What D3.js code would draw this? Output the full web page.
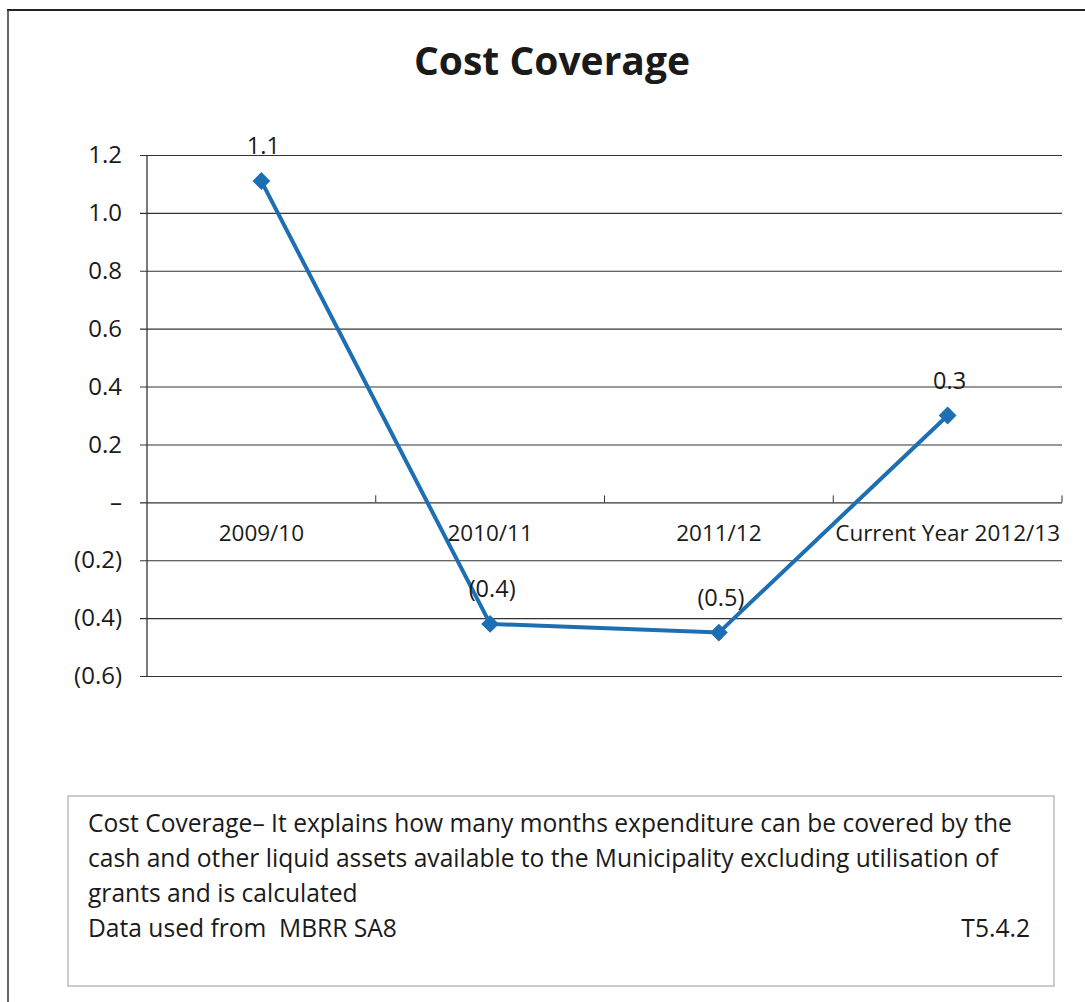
<!DOCTYPE html>
<html><head><meta charset="utf-8">
<script src="https://cdn.jsdelivr.net/npm/d3@7"></script>
<style>
html,body{margin:0;padding:0;background:#fff;}
svg{display:block;}
text{font-family:"Open Sans","Lato",sans-serif;fill:#1a1a1a;white-space:pre;}
</style></head>
<body><svg id="c" width="1085" height="1002"></svg>
<script>
const categories = ["2009/10", "2010/11", "2011/12", "Current Year 2012/13"];
const values = [1.11, -0.42, -0.45, 0.30];
const dataLabels = ["1.1", "(0.4)", "(0.5)", "0.3"];
const yTicks = [1.2, 1.0, 0.8, 0.6, 0.4, 0.2, 0, -0.2, -0.4, -0.6];
const title = "Cost Coverage";
const noteLines = [
  "Cost Coverage\u2013 It explains how many months expenditure can be covered by the",
  "cash and other liquid assets available to the Municipality excluding utilisation of",
  "grants and is calculated",
  "Data used from  MBRR SA8"
];
const noteRef = "T5.4.2";

const svg = d3.select("#c");
const W = 1085, H = 1002;
const FONT = "'Open Sans',sans-serif";

// outer frame
svg.append("line").attr("x1",7).attr("x2",W).attr("y1",10).attr("y2",10).attr("stroke","#222").attr("stroke-width",2);
svg.append("line").attr("x1",8).attr("x2",8).attr("y1",10).attr("y2",H).attr("stroke","#333").attr("stroke-width",1.5);

svg.append("text").attr("x",552).attr("y",75).attr("text-anchor","middle")
  .style("font-size","39px").style("font-weight","bold").style("font-family",FONT).text(title);

const x = d3.scaleBand().domain(categories).range([147,1062]);
const y = d3.scaleLinear().domain([-0.6,1.2]).range([676,155]);

const fmt = d => Math.abs(d) < 1e-9 ? "\u2013" : d < 0 ? "(" + Math.abs(d).toFixed(1) + ")" : d.toFixed(1);

// y axis with gridlines
const yAxis = d3.axisLeft(y).tickValues(yTicks).tickFormat(fmt).tickSize(-(1062-147)).tickPadding(25);
const gy = svg.append("g").attr("transform","translate(147,0)").call(yAxis);
gy.select(".domain").remove();
gy.selectAll(".tick line").attr("x1",-7).attr("stroke","#333").attr("stroke-width",1.1);
gy.selectAll(".tick text").style("font-size","24px").attr("fill","#1a1a1a").style("font-family",FONT);
svg.append("line").attr("x1",147).attr("x2",147).attr("y1",y(1.2)).attr("y2",y(-0.6)).attr("stroke","#333").attr("stroke-width",1.3);

// category axis at zero
const xAxis = d3.axisBottom(x).tickSize(0).tickPadding(0);
const gx = svg.append("g").attr("transform",`translate(0,${y(0)})`).call(xAxis);
gx.select(".domain").remove();
gx.selectAll(".tick text").attr("y",30).attr("dy",null).attr("dominant-baseline","central")
  .style("font-size","22.5px").attr("fill","#1a1a1a").style("font-family",FONT);
// boundary tick marks
const bounds = categories.map(c => x(c)).concat([x(categories[categories.length-1]) + x.bandwidth()]).slice(1);
svg.selectAll(".btick").data(bounds).enter().append("line")
  .attr("x1",d=>d).attr("x2",d=>d).attr("y1",y(0)-7).attr("y2",y(0)).attr("stroke","#333");

// line
const pts = categories.map((c,i)=>({c, v:values[i], lab:dataLabels[i]}));
const cx = d => x(d.c)+x.bandwidth()/2;
const line = d3.line().x(cx).y(d=>y(d.v));
svg.append("path").datum(pts).attr("d",line).attr("fill","none").attr("stroke","#1d6fb3").attr("stroke-width",4);
svg.selectAll(".mk").data(pts).enter().append("path")
  .attr("d", d3.symbol(d3.symbolSquare, 160))
  .attr("transform", d=>`translate(${cx(d)},${y(d.v)}) rotate(45)`)
  .attr("fill","#1d6fb3");
svg.selectAll(".dl").data(pts).enter().append("text")
  .attr("x", d=>cx(d)+2).attr("y", d=>y(d.v)-27)
  .attr("text-anchor","middle")
  .style("font-size","23.5px").style("font-family",FONT).text(d=>d.lab);

// note box
svg.append("rect").attr("x",68).attr("y",796).attr("width",986).attr("height",190)
  .attr("fill","none").attr("stroke","#aaa").attr("stroke-width",1.2);
const nt = svg.append("g");
noteLines.forEach((t,i)=>{
  nt.append("text").attr("x",88).attr("y",832+i*35).style("font-size","24.6px").style("font-family",FONT).text(t);
});
svg.append("text").attr("x",1030).attr("y",832+3*35).attr("text-anchor","end").style("font-size","24.6px").style("font-family",FONT).text(noteRef);
</script></body></html>
